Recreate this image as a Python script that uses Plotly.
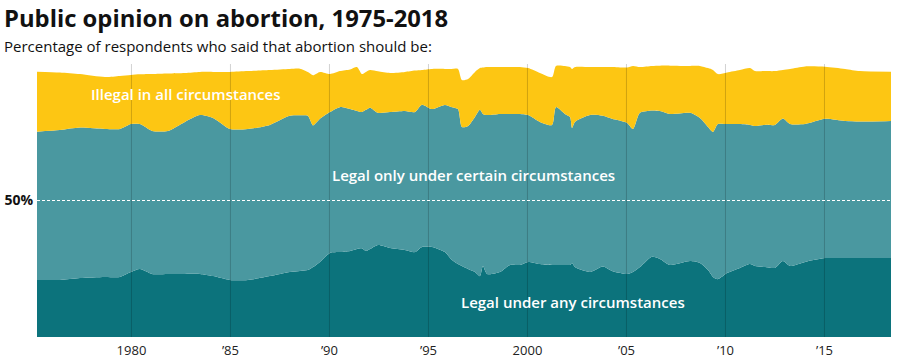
import plotly.graph_objects as go

years = [1975.23, 1976.39, 1977.40, 1978.66, 1979.42, 1979.97, 1980.43, 1981.04, 1981.84, 1982.70,
         1983.46, 1984.12, 1984.97, 1985.88, 1986.99, 1988.00, 1988.51, 1988.91, 1989.17, 1989.52,
         1990.03, 1990.53, 1991.04, 1991.39, 1991.64, 1991.84, 1992.05, 1992.45, 1993.06, 1993.81,
         1994.32, 1994.67, 1995.18, 1995.83, 1996.19, 1996.49, 1996.69, 1997.00, 1997.35, 1997.60,
         1997.75, 1997.96, 1998.61, 1999.12, 1999.62, 2000.03, 2000.63, 2001.24, 2001.44, 2001.89,
         2002.15, 2002.25, 2002.40, 2003.16, 2003.81, 2004.27, 2005.03, 2005.33, 2005.68, 2006.29,
         2006.69, 2007.20, 2008.21, 2008.71, 2009.12, 2009.37, 2009.62, 2010.08, 2010.73, 2011.24,
         2011.49, 2012.00, 2012.50, 2012.90, 2013.26, 2014.02, 2015.03, 2016.04, 2016.79, 2018.36]

legal_any = [20.9, 20.9, 21.6, 22.0, 22.0, 23.8, 24.9, 23.1, 23.1, 23.1,
             23.1, 22.3, 20.9, 20.9, 22.3, 23.8, 24.2, 24.5, 25.6, 27.5,
             30.8, 31.1, 31.5, 32.2, 32.5, 31.5, 32.2, 33.7, 32.6, 31.9,
             31.1, 33.0, 33.0, 31.1, 28.2, 26.7, 26.0, 24.9, 23.8, 22.3,
             26.0, 23.1, 23.8, 26.4, 26.4, 27.5, 26.7, 26.4, 26.4, 26.4,
             26.4, 27.1, 25.6, 23.8, 25.8, 24.2, 23.1, 23.8, 25.6, 29.4,
             28.6, 26.4, 27.8, 27.1, 24.5, 22.0, 21.2, 23.4, 25.3, 26.7,
             26.0, 25.6, 25.3, 27.8, 26.0, 27.5, 28.9, 28.9, 28.9, 28.9]

legal_certain = [54.3, 54.9, 55.1, 54.2, 54.2, 54.2, 53.1, 52.4, 52.4, 55.7,
                 58.2, 57.9, 55.3, 55.3, 55.4, 57.2, 57.0, 56.5, 51.9, 52.4,
                 51.6, 53.1, 52.0, 50.6, 49.9, 51.7, 51.8, 48.4, 49.8, 50.9,
                 51.3, 52.1, 50.5, 53.9, 56.0, 56.8, 50.9, 52.4, 56.8, 60.9,
                 55.7, 58.2, 57.9, 55.3, 55.3, 53.8, 52.1, 51.3, 57.8, 55.3,
                 54.2, 49.5, 53.2, 57.5, 55.2, 55.7, 55.3, 52.4, 56.5, 53.6,
                 54.2, 55.3, 54.3, 53.1, 52.4, 53.1, 56.8, 54.6, 52.7, 51.0,
                 51.3, 52.1, 52.4, 52.2, 52.0, 50.5, 51.0, 50.2, 50.0, 50.2]

illegal_all = [22.0, 21.1, 19.6, 19.0, 19.4, 18.0, 18.2, 20.8, 21.0, 17.9,
               15.8, 16.9, 20.9, 21.2, 20.1, 17.2, 17.1, 16.1, 18.4, 17.2,
               13.9, 13.2, 14.5, 16.1, 13.9, 13.9, 13.8, 15.2, 14.3, 14.3,
               15.2, 12.7, 14.7, 13.2, 14.0, 14.7, 17.2, 17.2, 16.5, 15.3,
               17.0, 17.6, 17.2, 17.2, 17.2, 17.2, 17.9, 17.5, 15.1, 17.6,
               18.3, 21.6, 20.1, 17.6, 17.9, 19.0, 20.3, 23.1, 16.8, 16.3,
               16.6, 17.7, 17.2, 19.1, 21.6, 22.7, 18.3, 18.9, 19.8, 20.8,
               20.1, 19.7, 19.7, 17.8, 20.2, 21.1, 19.1, 19.1, 18.5, 18.1]

tick_years = [1980, 1985, 1990, 1995, 2000, 2005, 2010, 2015]
tick_text = ["1980", "\u201985", "\u201990", "\u201995", "2000", "\u201905", "\u201910", "\u201915"]

series = [
    ("Legal under any circumstances", legal_any, "#0c737c"),
    ("Legal only under certain circumstances", legal_certain, "#4a98a0"),
    ("Illegal in all circumstances", illegal_all, "#fdc613"),
]

fig = go.Figure()
for name, vals, col in series:
    fig.add_trace(go.Scatter(
        x=years, y=vals, name=name, mode="lines", stackgroup="one",
        line=dict(width=0, shape="spline", smoothing=0.7, color=col),
        fillcolor=col, hoverinfo="skip",
    ))

shapes = []
for yr in tick_years:
    shapes.append(dict(type="line", xref="x", yref="y", x0=yr, x1=yr, y0=0, y1=100,
                       line=dict(color="rgba(0,0,0,0.18)", width=1), layer="above"))
shapes.append(dict(type="line", xref="paper", yref="y", x0=0, x1=1, y0=50, y1=50,
                   line=dict(color="white", width=1, dash="3px,2px"), layer="above"))

font_family = "Open Sans, Noto Sans, sans-serif"
label_font = dict(family=font_family, size=15, color="white", weight=600)

fig.update_layout(
    width=900, height=362,
    margin=dict(l=37, r=9, t=64, b=25),
    paper_bgcolor="white", plot_bgcolor="white",
    showlegend=False,
    shapes=shapes,
    xaxis=dict(range=[1975.23, 2018.36], tickvals=tick_years, ticktext=tick_text,
               showgrid=False, zeroline=False, showline=False, ticks="", automargin=False,
               ticklabelstandoff=4,
               tickfont=dict(family=font_family, size=13, color="#222")),
    yaxis=dict(range=[0, 100], tickvals=[50], ticktext=["<b>50%</b>"],
               showgrid=False, zeroline=False, showline=False, ticks="", automargin=False,
               ticklabelstandoff=3,
               tickfont=dict(family=font_family, size=14, color="#111")),
    hovermode=False,
)

fig.add_annotation(x=1982.73, y=89.0, xref="x", yref="y", text="Illegal in all circumstances",
                   showarrow=False, font=label_font)
fig.add_annotation(x=1997.25, y=59.3, xref="x", yref="y", text="Legal only under certain circumstances",
                   showarrow=False, font=label_font)
fig.add_annotation(x=2002.32, y=12.8, xref="x", yref="y", text="Legal under any circumstances",
                   showarrow=False, font=label_font)

fig.add_annotation(x=0, y=1, xref="paper", yref="paper", xanchor="left", yanchor="top",
                   text="<b>Public opinion on abortion, 1975-2018</b>", showarrow=False,
                   xshift=-35, yshift=64,
                   font=dict(family=font_family, size=23.8, color="#111"))
fig.add_annotation(x=0, y=1, xref="paper", yref="paper", xanchor="left", yanchor="top",
                   text="Percentage of respondents who said that abortion should be:", showarrow=False,
                   xshift=-35, yshift=30,
                   font=dict(family=font_family, size=15, color="#111"))

# remove the browser's default 8px body margin so the 900x362 figure fills the window
fig.write_html("out.html", config={"displayModeBar": False},
               post_script="document.body.style.margin='0';document.body.style.overflow='hidden';")
